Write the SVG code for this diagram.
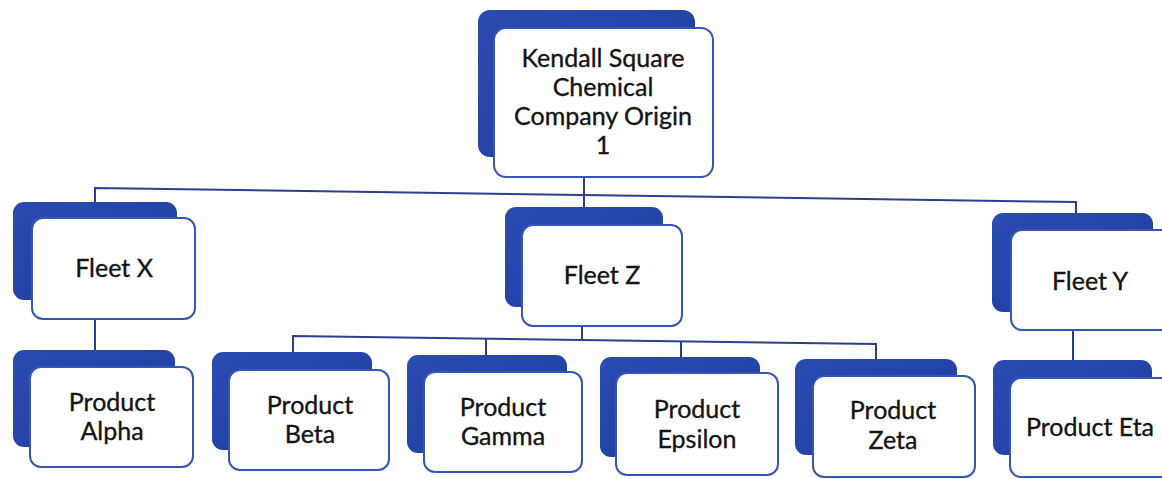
<svg xmlns="http://www.w3.org/2000/svg" width="1162" height="479" viewBox="0 0 1162 479">
  <defs>
    <linearGradient id="sh" x1="0" y1="0" x2="1" y2="1">
      <stop offset="0" stop-color="#2a4bb2"/>
      <stop offset="1" stop-color="#1e3c9e"/>
    </linearGradient>
    <style>
      .shadow { fill: url(#sh); }
      .box { fill: #ffffff; stroke: #3555b8; stroke-width: 2; }
      .conn { fill: none; stroke: #2b3f8e; stroke-width: 2; }
      text { font-family: Lato, "Liberation Sans", sans-serif; font-size: 25px; fill: #141414; stroke: #141414; stroke-width: 0.35; text-anchor: middle; }
    </style>
  </defs>
  <rect width="1162" height="479" fill="#ffffff"/>
  <g id="connectors">
    <polyline class="conn" points="95,202 95,188 1076,202 1076,213"/>
    <line class="conn" x1="584" y1="177" x2="584" y2="210"/>
    <line class="conn" x1="95" y1="319" x2="95" y2="352"/>
    <polyline class="conn" points="293,352 293,336 876,344 876,360"/>
    <line class="conn" x1="582" y1="326" x2="582" y2="341"/>
    <line class="conn" x1="486" y1="339" x2="486" y2="356"/>
    <line class="conn" x1="681" y1="342" x2="681" y2="358"/>
    <line class="conn" x1="1073" y1="330" x2="1073" y2="362"/>
  </g>
  <g id="root">
    <rect class="shadow" x="478" y="10" width="217" height="147" rx="12"/>
    <rect class="box" x="494" y="28" width="219" height="149" rx="12"/>
    <text x="603" y="67">Kendall Square</text>
    <text x="603" y="96">Chemical</text>
    <text x="603" y="125">Company Origin</text>
    <text x="603" y="154">1</text>
  </g>
  <g id="fleet-x">
    <rect class="shadow" x="13" y="202" width="164" height="98" rx="11"/>
    <rect class="box" x="32" y="218" width="163" height="101" rx="11"/>
    <text x="114" y="277">Fleet X</text>
  </g>
  <g id="fleet-z">
    <rect class="shadow" x="505" y="207" width="158" height="100" rx="11"/>
    <rect class="box" x="522" y="225" width="160" height="101" rx="11"/>
    <text x="602" y="284">Fleet Z</text>
  </g>
  <g id="fleet-y">
    <rect class="shadow" x="992" y="213" width="161" height="99" rx="11"/>
    <rect class="box" x="1011" y="230" width="170" height="100" rx="11"/>
    <text x="1090" y="290">Fleet Y</text>
  </g>
  <g id="product-alpha">
    <rect class="shadow" x="13" y="350" width="162" height="97" rx="11"/>
    <rect class="box" x="30" y="367" width="163" height="100" rx="11"/>
    <text x="112" y="411">Product</text>
    <text x="112" y="440">Alpha</text>
  </g>
  <g id="product-beta">
    <rect class="shadow" x="212" y="352" width="160" height="98" rx="11"/>
    <rect class="box" x="229" y="370" width="160" height="100" rx="11"/>
    <text x="310" y="414">Product</text>
    <text x="310" y="443">Beta</text>
  </g>
  <g id="product-gamma">
    <rect class="shadow" x="407" y="355" width="160" height="98" rx="11"/>
    <rect class="box" x="424" y="372" width="158" height="100" rx="11"/>
    <text x="503" y="416">Product</text>
    <text x="503" y="445">Gamma</text>
  </g>
  <g id="product-epsilon">
    <rect class="shadow" x="600" y="357" width="160" height="100" rx="11"/>
    <rect class="box" x="616" y="373" width="162" height="102" rx="11"/>
    <text x="697" y="418">Product</text>
    <text x="697" y="448">Epsilon</text>
  </g>
  <g id="product-zeta">
    <rect class="shadow" x="795" y="359" width="162" height="96" rx="11"/>
    <rect class="box" x="813" y="376" width="162" height="101" rx="11"/>
    <text x="893" y="419">Product</text>
    <text x="893" y="449">Zeta</text>
  </g>
  <g id="product-eta">
    <rect class="shadow" x="993" y="360" width="159" height="95" rx="11"/>
    <rect class="box" x="1010" y="378" width="170" height="99" rx="11"/>
    <text x="1090" y="436">Product Eta</text>
  </g>
</svg>
